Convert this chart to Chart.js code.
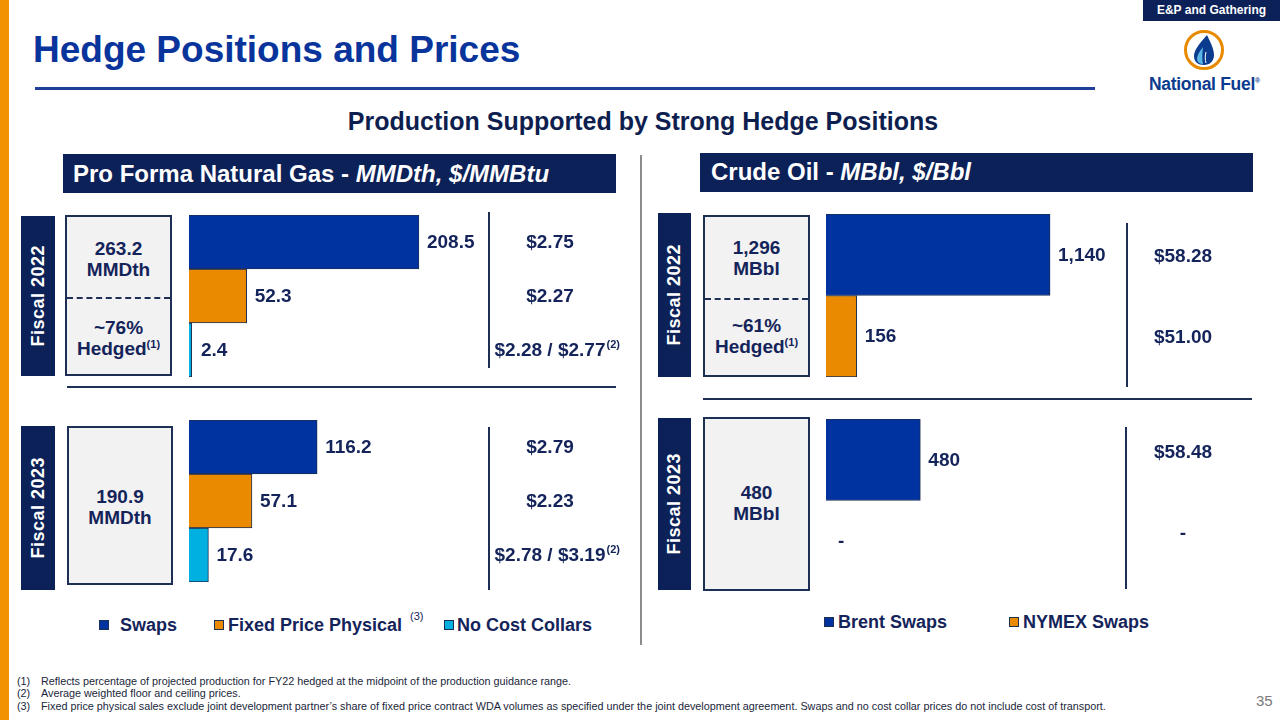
<!DOCTYPE html>
<html lang="en">
<head>
    <meta charset="UTF-8">
    <title>Hedge Positions and Prices</title>
    <script src="https://cdn.jsdelivr.net/npm/chart.js"></script>
    <style>
        body {
            margin: 0;
            background: #ffffff;
            font-family: "Liberation Sans", Arial, sans-serif;
        }

        .slide {
            position: relative;
            width: 1280px;
            height: 720px;
            overflow: hidden;
            background: #ffffff;
        }

        .abs { position: absolute; }

        .side-strip {
            left: 0; top: 0; width: 9px; height: 720px;
            background: #f39200;
        }

        .tag {
            left: 1143px; top: 0; width: 137px; height: 21px;
            background: #0c2157;
            color: #fff;
            font-weight: bold;
            font-size: 12px;
            line-height: 21px;
            text-align: center;
        }

        .title {
            left: 33px; top: 31px;
            font-size: 37px; line-height: 37px;
            font-weight: bold;
            color: #08349c;
            white-space: nowrap;
        }

        .title-rule {
            left: 35px; top: 87px; width: 1060px; height: 3px;
            background: #1f3f99;
        }

        .brand {
            left: 1149px; top: 72px;
            font-size: 17.5px; line-height: 17px;
            font-weight: bold;
            color: #0b3b8f;
            white-space: nowrap;
            letter-spacing: -0.3px;
        }
        .brand sup { font-size: 7px; }

        .subtitle {
            left: 0; top: 109px; width: 1286px;
            text-align: center;
            font-size: 25px; line-height: 25px;
            font-weight: bold;
            color: #0e1f4f;
        }

        .panel-head {
            background: #0c2157;
            color: #fff;
            font-size: 24px;
            font-weight: bold;
            line-height: 39px;
            white-space: nowrap;
            box-sizing: border-box;
        }
        .panel-head i { font-style: italic; }

        .divider {
            left: 640px; top: 155px; width: 2px; height: 490px;
            background: #8c8c8c;
        }

        .year {
            background: #0c2157;
            color: #fff;
            font-weight: bold;
            font-size: 18px;
            letter-spacing: 0.5px;
            display: flex;
            align-items: center;
            justify-content: center;
        }
        .year span {
            writing-mode: vertical-rl;
            transform: rotate(180deg);
            white-space: nowrap;
        }

        .total-box {
            background: #f2f2f2;
            border: 2px solid #1d2f55;
            box-sizing: border-box;
            color: #14245a;
            font-weight: bold;
            font-size: 19px;
            line-height: 21px;
            text-align: center;
        }
        .total-box sup { font-size: 11px; line-height: 0; }
        .total-box .part {
            position: absolute; left: 0; width: 100%;
        }
        .total-box .dash {
            position: absolute; left: 0; width: 100%; height: 0;
            border-top: 2px dashed #1d2f55;
        }

        .rule-h { height: 2px; background: #1d2f55; }
        .rule-v { width: 2px; background: #1d2f55; }

        .lg-text {
            color: #14245a;
            font-weight: bold;
            font-size: 18px;
            line-height: 18px;
            white-space: nowrap;
        }
        .lg-sw {
            width: 10px; height: 10px;
            box-sizing: border-box;
            border: 1px solid #1d2f55;
        }
        .lg-note {
            color: #14245a;
            font-size: 11px;
            line-height: 11px;
        }

        .notes {
            left: 17px; top: 675px;
            font-size: 10.8px; line-height: 12.4px;
            color: #1a1f3a;
            white-space: nowrap;
        }
        .notes div span { display: inline-block; width: 24px; }

        .page-no {
            left: 1256px; top: 692px;
            font-size: 15px; color: #7a7a7a;
        }

        canvas { position: absolute; }
    </style>
</head>
<body>
<div class="slide">
    <div class="abs side-strip"></div>
    <div class="abs tag">E&amp;P and Gathering</div>

    <svg class="abs" style="left:1180px;top:26px" width="48" height="48" viewBox="1180 26 48 48">
        <circle cx="1204" cy="50" r="18.5" fill="#fff" stroke="#e88a00" stroke-width="3"/>
        <path d="M1207,35 C1200,43 1194,50 1194,56 C1194,62 1198,65 1204,65 C1210,65 1214,61 1214,55 C1214,48 1210,42 1207,35 Z" fill="#0b3b8f"/>
        <path d="M1203,47 C1199,52 1197,56 1197,59 C1197,62 1200,64 1203,64 C1202,60 1202,54 1203,47 Z" fill="#59b6e6"/>
        <path d="M1206,52 C1205,56 1205,60 1206,63" stroke="#fff" stroke-width="1" fill="none"/>
    </svg>
    <div class="abs brand">National Fuel<sup>®</sup></div>

    <div class="abs title">Hedge Positions and Prices</div>
    <div class="abs title-rule"></div>

    <div class="abs subtitle">Production Supported by Strong Hedge Positions</div>

    <div class="abs panel-head" style="left:63px;top:154px;width:553px;height:39px;padding-left:10px;">Pro Forma Natural Gas - <i>MMDth, $/MMBtu</i></div>
    <div class="abs panel-head" style="left:700px;top:153px;width:553px;height:39px;padding-left:11px;line-height:38px;">Crude Oil - <i>MBbl, $/Bbl</i></div>

    <div class="abs divider"></div>

    <!-- natural gas, fiscal 2022 -->
    <div class="abs year" style="left:21px;top:216px;width:34px;height:160px;"><span>Fiscal 2022</span></div>
    <div class="abs total-box" style="left:65px;top:215px;width:107px;height:161px;">
        <div class="part" style="top:21px;">263.2<br>MMDth</div>
        <div class="dash" style="top:80px;"></div>
        <div class="part" style="top:100px;">~76%<br>Hedged<sup>(1)</sup></div>
    </div>
    <canvas id="gas22" width="440" height="162" style="left:189px;top:215px;"></canvas>
    <div class="abs rule-v" style="left:488px;top:212px;height:156px;"></div>
    <div class="abs rule-h" style="left:67px;top:386px;width:549px;"></div>

    <!-- natural gas, fiscal 2023 -->
    <div class="abs year" style="left:21px;top:426px;width:34px;height:164px;"><span>Fiscal 2023</span></div>
    <div class="abs total-box" style="left:67px;top:426px;width:106px;height:159px;">
        <div class="part" style="top:58px;">190.9<br>MMDth</div>
    </div>
    <canvas id="gas23" width="440" height="162" style="left:189px;top:420px;"></canvas>
    <div class="abs rule-v" style="left:488px;top:427px;height:163px;"></div>

    <div class="abs lg-sw" style="left:99px;top:620px;background:#0033a0;"></div>
    <div class="abs lg-text" style="left:120px;top:616px;">Swaps</div>
    <div class="abs lg-sw" style="left:214px;top:620px;background:#ea8a00;"></div>
    <div class="abs lg-text" style="left:228px;top:616px;">Fixed Price Physical</div>
    <div class="abs lg-note" style="left:410px;top:611px;">(3)</div>
    <div class="abs lg-sw" style="left:444px;top:620px;background:#00b0e0;"></div>
    <div class="abs lg-text" style="left:457px;top:616px;">No Cost Collars</div>

    <!-- crude oil, fiscal 2022 -->
    <div class="abs year" style="left:658px;top:213px;width:33px;height:164px;"><span>Fiscal 2022</span></div>
    <div class="abs total-box" style="left:703px;top:215px;width:107px;height:162px;">
        <div class="part" style="top:20px;">1,296<br>MBbl</div>
        <div class="dash" style="top:81px;"></div>
        <div class="part" style="top:98px;">~61%<br>Hedged<sup>(1)</sup></div>
    </div>
    <canvas id="oil22" width="420" height="163" style="left:826px;top:214px;"></canvas>
    <div class="abs rule-v" style="left:1126px;top:223px;height:164px;"></div>
    <div class="abs rule-h" style="left:703px;top:398px;width:549px;"></div>

    <!-- crude oil, fiscal 2023 -->
    <div class="abs year" style="left:658px;top:418px;width:33px;height:172px;"><span>Fiscal 2023</span></div>
    <div class="abs total-box" style="left:703px;top:417px;width:107px;height:174px;">
        <div class="part" style="top:63px;">480<br>MBbl</div>
    </div>
    <canvas id="oil23" width="420" height="163" style="left:826px;top:419px;"></canvas>
    <div class="abs rule-v" style="left:1125px;top:427px;height:162px;"></div>

    <div class="abs lg-sw" style="left:824px;top:617px;background:#0033a0;"></div>
    <div class="abs lg-text" style="left:838px;top:613px;">Brent Swaps</div>
    <div class="abs lg-sw" style="left:1009px;top:617px;background:#ea8a00;"></div>
    <div class="abs lg-text" style="left:1023px;top:613px;">NYMEX Swaps</div>

    <div class="abs notes">
        <div><span>(1)</span>Reflects percentage of projected production for FY22 hedged at the midpoint of the production guidance range.</div>
        <div><span>(2)</span>Average weighted floor and ceiling prices.</div>
        <div><span>(3)</span>Fixed price physical sales exclude joint development partner’s share of fixed price contract WDA volumes as specified under the joint development agreement. Swaps and no cost collar prices do not include cost of transport.</div>
    </div>
    <div class="abs page-no">35</div>
</div>

<script>
    // values
    const gasCategories = ['Swaps', 'Fixed Price Physical', 'No Cost Collars'];
    const gasFY22 = [208.5, 52.3, 2.4];
    const gasFY23 = [116.2, 57.1, 17.6];
    const gasPricesFY22 = ['$2.75', '$2.27', '$2.28 / $2.77'];
    const gasPricesFY23 = ['$2.79', '$2.23', '$2.78 / $3.19'];
    const gasPriceNotes = ['', '', '(2)'];

    const oilCategories = ['Brent Swaps', 'NYMEX Swaps'];
    const oilFY22 = [1140, 156];
    const oilFY23 = [480, 0];
    const oilPricesFY22 = ['$58.28', '$51.00'];
    const oilPricesFY23 = ['$58.48', '-'];
    const oilPriceNotes = ['', ''];

    const gasColors = ['#0033a0', '#ea8a00', '#00b0e0'];
    const oilColors = ['#0033a0', '#ea8a00'];
    const textNavy = '#14245a';
    const labelFont = 'bold 19px "Liberation Sans", Arial, sans-serif';

    // value label after each bar, and the price column further right
    const rowText = {
        id: 'rowText',
        afterDatasetsDraw(chart, args, opts) {
            const ctx = chart.ctx;
            const meta = chart.getDatasetMeta(0);
            const values = chart.data.datasets[0].data;
            const base = chart.scales.x.getPixelForValue(0);
            ctx.save();
            ctx.fillStyle = textNavy;
            ctx.textBaseline = 'middle';
            meta.data.forEach((bar, i) => {
                const v = values[i];
                ctx.font = labelFont;
                ctx.textAlign = 'left';
                const label = v ? opts.fmt(v) : '-';
                ctx.fillText(label, Math.max(bar.x + 8, base + 12), bar.y + 1);

                const price = opts.prices[i];
                const note = opts.notes[i];
                const py = bar.y + 1 + opts.priceDy;
                const w = ctx.measureText(price).width;
                const px = opts.priceX - w / 2;
                ctx.fillText(price, px, py);
                if (note) {
                    ctx.font = 'bold 11px "Liberation Sans", Arial, sans-serif';
                    ctx.fillText(note, px + w + 1, py - 6);
                }
            });
            ctx.restore();
        }
    };

    function makeChart(id, labels, values, colors, max, prices, notes, priceX, priceDy, fmt) {
        return new Chart(document.getElementById(id), {
            type: 'bar',
            data: {
                labels: labels,
                datasets: [{
                    data: values,
                    // empty rows get no fill and no outline
                    backgroundColor: values.map((v, i) => v ? colors[i] : 'rgba(0,0,0,0)'),
                    borderColor: '#1d2f55',
                    borderWidth: values.map(v => v ? 1 : 0),
                    barPercentage: 1,
                    categoryPercentage: 1
                }]
            },
            options: {
                indexAxis: 'y',
                responsive: false,
                animation: false,
                layout: { padding: 0 },
                scales: {
                    x: { display: false, min: 0, max: max },
                    y: { display: false }
                },
                plugins: {
                    legend: { display: false },
                    tooltip: { enabled: false },
                    rowText: { prices: prices, notes: notes, priceX: priceX, priceDy: priceDy, fmt: fmt }
                }
            },
            plugins: [rowText]
        });
    }

    const gasFmt = v => v.toFixed(1);
    const oilFmt = v => v.toLocaleString('en-US');

    makeChart('gas22', gasCategories, gasFY22, gasColors, 399, gasPricesFY22, gasPriceNotes, 361, 0, gasFmt);
    makeChart('gas23', gasCategories, gasFY23, gasColors, 399, gasPricesFY23, gasPriceNotes, 361, 0, gasFmt);
    makeChart('oil22', oilCategories, oilFY22, oilColors, 2137, oilPricesFY22, oilPriceNotes, 357, 1, oilFmt);
    makeChart('oil23', oilCategories, oilFY23, oilColors, 2137, oilPricesFY23, oilPriceNotes, 357, -8, oilFmt);
</script>
</body>
</html>
